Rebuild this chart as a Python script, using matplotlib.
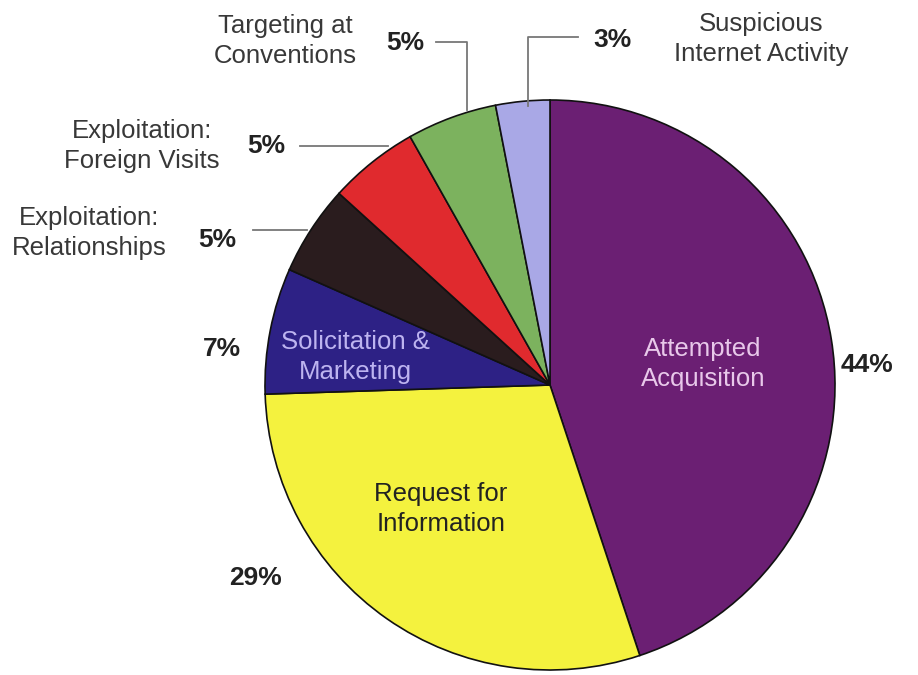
import matplotlib.pyplot as plt

plt.rcParams['font.family'] = ['Liberation Sans', 'DejaVu Sans']

# slices, clockwise from 12 o'clock
categories = ['Attempted Acquisition', 'Request for Information',
              'Solicitation & Marketing', 'Exploitation: Relationships',
              'Exploitation: Foreign Visits', 'Targeting at Conventions',
              'Suspicious Internet Activity']
shares = [44, 29, 7, 5, 5, 5, 3]
pct_labels = ['44%', '29%', '7%', '5%', '5%', '5%', '3%']

colors = ['#6b1f73', '#f4f23e', '#2d2185', '#2a1c1e', '#e02a2e', '#7cb25e', '#a9a8e6']

W, H = 918, 675
fig = plt.figure(figsize=(W / 100, H / 100), dpi=100)
ax = fig.add_axes([0, 0, 1, 1])


def Y(y):
    # image rows -> axes coords
    return H - y


ax.pie(shares, colors=colors, startangle=90, counterclock=False,
       center=(550, Y(385)), radius=285,
       wedgeprops=dict(edgecolor='#111111', linewidth=1.2))
ax.set_xlim(0, W)
ax.set_ylim(0, H)
ax.set_aspect('equal')
ax.axis('off')

txt = dict(ha='center', va='center', fontsize=18.5, linespacing=1.35)
pct = dict(ha='center', va='center', fontsize=19, fontweight='bold', color='#222222')

# labels inside the pie
ax.text(703, Y(364), 'Attempted\nAcquisition', color='#e8c8ea', **txt)
ax.text(441, Y(509), 'Request for\nInformation', color='#222222', **txt)
ax.text(355, Y(357), 'Solicitation &\nMarketing', color='#bdb4f0', **txt)

# labels outside the pie
ax.text(285, Y(41), 'Targeting at\nConventions', color='#383838', **txt)
ax.text(142, Y(146), 'Exploitation:\nForeign Visits', color='#383838', **txt)
ax.text(89, Y(233), 'Exploitation:\nRelationships', color='#383838', **txt)
ax.text(761, Y(39), 'Suspicious\nInternet Activity', color='#383838', **txt)

# percentage labels
pct_pos = [(867, 365), (255, 578), (222, 349), (217, 240),
           (266, 146), (405, 43), (612, 40)]
for lab, (x, y) in zip(pct_labels, pct_pos):
    ax.text(x, Y(y), lab, **pct)

# leader lines
line = dict(color='#777777', linewidth=1.3)
ax.plot([253, 307], [Y(230), Y(230)], **line)
ax.plot([300, 388], [Y(146), Y(146)], **line)
ax.plot([436, 467, 467], [Y(42), Y(42), Y(110)], **line)
ax.plot([578, 528, 528], [Y(37), Y(37), Y(106)], **line)

fig.savefig('out.png', dpi=100, facecolor='white')
